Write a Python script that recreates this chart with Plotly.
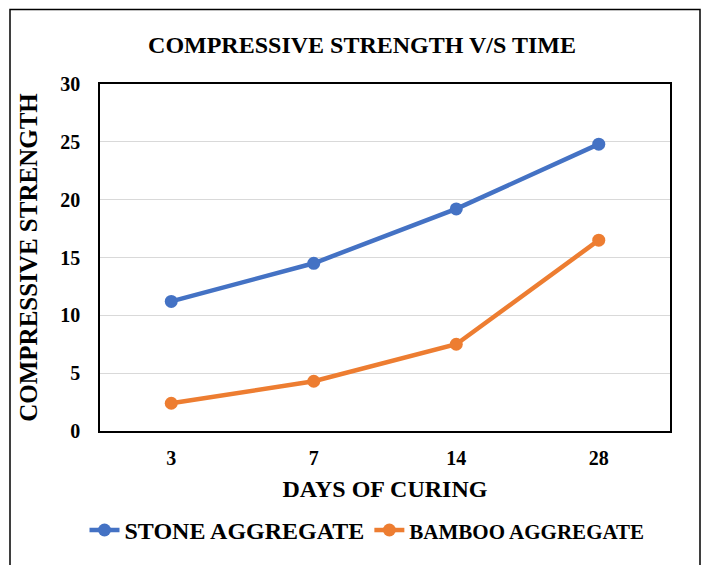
import plotly.graph_objects as go

days = ["3", "7", "14", "28"]
stone = [11.2, 14.5, 19.2, 24.8]
bamboo = [2.4, 4.3, 7.5, 16.5]
y_ticks = [0, 5, 10, 15, 20, 25, 30]

FONT = "Liberation Serif"
# page has an 8px body margin; figure coords are page coords minus 8
W, H = 701, 557
L, R, T, B = 92, 39, 76, 132
PW, PH = W - L - R, H - T - B

fig = go.Figure()
fig.add_trace(go.Scatter(x=days, y=stone, mode="lines+markers",
                         name="STONE AGGREGATE",
                         line=dict(color="#4472C4", width=4.5),
                         marker=dict(size=13, color="#4472C4")))
fig.add_trace(go.Scatter(x=days, y=bamboo, mode="lines+markers",
                         name="<span style='font-size:21px'>BAMBOO AGGREGATE</span>",
                         line=dict(color="#ED7D31", width=4.5),
                         marker=dict(size=13, color="#ED7D31")))

fig.update_layout(
    width=W, height=H,
    margin=dict(l=L, r=R, t=T, b=B),
    paper_bgcolor="white", plot_bgcolor="white",
    font=dict(family=FONT, color="black"),
    title=dict(text="COMPRESSIVE STRENGTH V/S TIME",
               x=(362 - 8) / W, xref="container", y=1 - 37 / H, yref="container",
               xanchor="center", yanchor="middle",
               font=dict(size=24, family=FONT, color="black", weight="bold")),
    xaxis=dict(type="category", range=[-0.5, 3.5],
               showline=True, linecolor="black", linewidth=1.5, mirror=True,
               showgrid=False, ticks="", ticklabelstandoff=8,
               tickfont=dict(size=20, family=FONT, color="black", weight="bold"),
               title=dict(text="DAYS OF CURING", standoff=12,
                          font=dict(size=24, family=FONT, color="black", weight="bold"))),
    yaxis=dict(range=[0, 30], tickvals=y_ticks,
               showline=True, linecolor="black", linewidth=1.5, mirror=True,
               showgrid=True, gridcolor="#d9d9d9", gridwidth=1,
               zeroline=False, ticks="", ticklabelstandoff=14,
               tickfont=dict(size=20, family=FONT, color="black", weight="bold"),
               title=dict(text="COMPRESSIVE STRENGTH", standoff=16,
                          font=dict(size=25, family=FONT, color="black", weight="bold"))),
    legend=dict(orientation="h", x=(359 - L) / PW, xanchor="center",
                y=(PH - (525 - T)) / PH, yanchor="middle",
                font=dict(size=24, family=FONT, color="black", weight="bold"),
                tracegroupgap=0, bgcolor="rgba(0,0,0,0)"),
    showlegend=True,
)

fig.add_shape(type="rect", xref="paper", yref="paper",
              x0=(2 - L) / PW, x1=(692 - L) / PW,
              y0=-0.6, y1=(PH + T - 1) / PH,
              line=dict(color="black", width=1.5), layer="below")

fig.write_html("out.html")
